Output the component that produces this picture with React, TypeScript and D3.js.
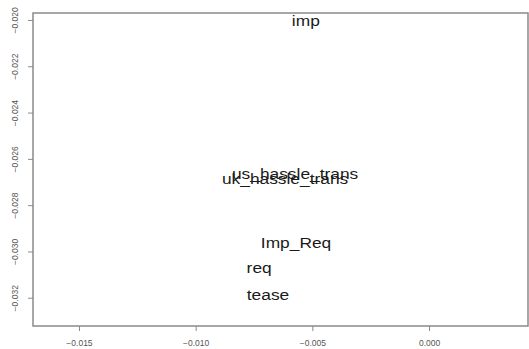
import * as React from 'react';
import * as d3 from 'd3';

// term labels and their coordinates
const terms = ['imp', 'us_hassle_trans', 'uk_hassle_trans', 'Imp_Req', 'req', 'tease'];
const dim1 = [-0.00528, -0.00574, -0.00617, -0.0057, -0.00728, -0.0069];
const dim2 = [-0.02002, -0.02663, -0.02685, -0.02961, -0.03069, -0.03186];

const xTicks = [-0.015, -0.01, -0.005, 0.0];
const yTicks = [-0.02, -0.022, -0.024, -0.026, -0.028, -0.03, -0.032];

const W = 529;
const H = 349;
const box = { left: 33, top: 13, right: 528, bottom: 326 };

export default function App() {
    const ref = React.useRef<SVGSVGElement>(null);

    React.useEffect(() => {
        const svg = d3.select(ref.current);
        svg.selectAll('*').remove();

        const xScale = d3.scaleLinear()
            .domain([-0.01697, 0.00424])
            .range([box.left, box.right]);
        const yScale = d3.scaleLinear()
            .domain([-0.0197, -0.03322])
            .range([box.top, box.bottom]);

        svg.append('rect')
            .attr('width', W)
            .attr('height', H)
            .attr('fill', '#fff');

        svg.append('rect')
            .attr('x', box.left)
            .attr('y', box.top)
            .attr('width', box.right - box.left)
            .attr('height', box.bottom - box.top)
            .attr('fill', 'none')
            .attr('stroke', '#8a8a8a')
            .attr('stroke-width', 1.5);

        const xAxis = d3.axisBottom(xScale)
            .tickValues(xTicks)
            .tickSize(5)
            .tickFormat(d3.format('.3f'));
        const gx = svg.append('g')
            .attr('transform', 'translate(0,' + box.bottom + ')')
            .call(xAxis);
        gx.select('.domain').remove();
        gx.selectAll('line').attr('stroke', '#8a8a8a');
        gx.selectAll('text')
            .attr('y', 14)
            .attr('fill', '#555')
            .style('font-family', 'Liberation Sans, Arial, sans-serif')
            .style('font-size', '8.5px');

        const yAxis = d3.axisLeft(yScale)
            .tickValues(yTicks)
            .tickSize(5)
            .tickFormat(d3.format('.3f'));
        const gy = svg.append('g')
            .attr('transform', 'translate(' + box.left + ',0)')
            .call(yAxis);
        gy.select('.domain').remove();
        gy.selectAll('line').attr('stroke', '#8a8a8a');
        gy.selectAll('text')
            .attr('x', 0)
            .attr('dy', 0)
            .attr('transform', 'translate(-18,0) rotate(-90)')
            .attr('text-anchor', 'middle')
            .attr('dominant-baseline', 'central')
            .attr('fill', '#555')
            .style('font-family', 'Liberation Sans, Arial, sans-serif')
            .style('font-size', '8.5px');

        const data = terms.map((t, i) => ({ term: t, x: dim1[i], y: dim2[i] }));
        // draw bottom-up so us_hassle_trans sits over uk_hassle_trans
        const order = [5, 4, 3, 2, 1, 0];
        svg.append('g')
            .selectAll('text')
            .data(order.map(i => data[i]))
            .enter()
            .append('text')
            .attr('transform', d => 'translate(' + xScale(d.x) + ',' + (yScale(d.y) + 5.5) + ') scale(1.12,1)')
            .attr('text-anchor', 'middle')
            .attr('fill', '#1a1a1a')
            .style('font-family', 'Liberation Sans, Arial, sans-serif')
            .style('font-size', '15.5px')
            .text(d => d.term);
    }, []);

    return (
        <svg ref={ref} width={W} height={H} style={{ position: 'absolute', left: 0, top: 0 }} />
    );
}
